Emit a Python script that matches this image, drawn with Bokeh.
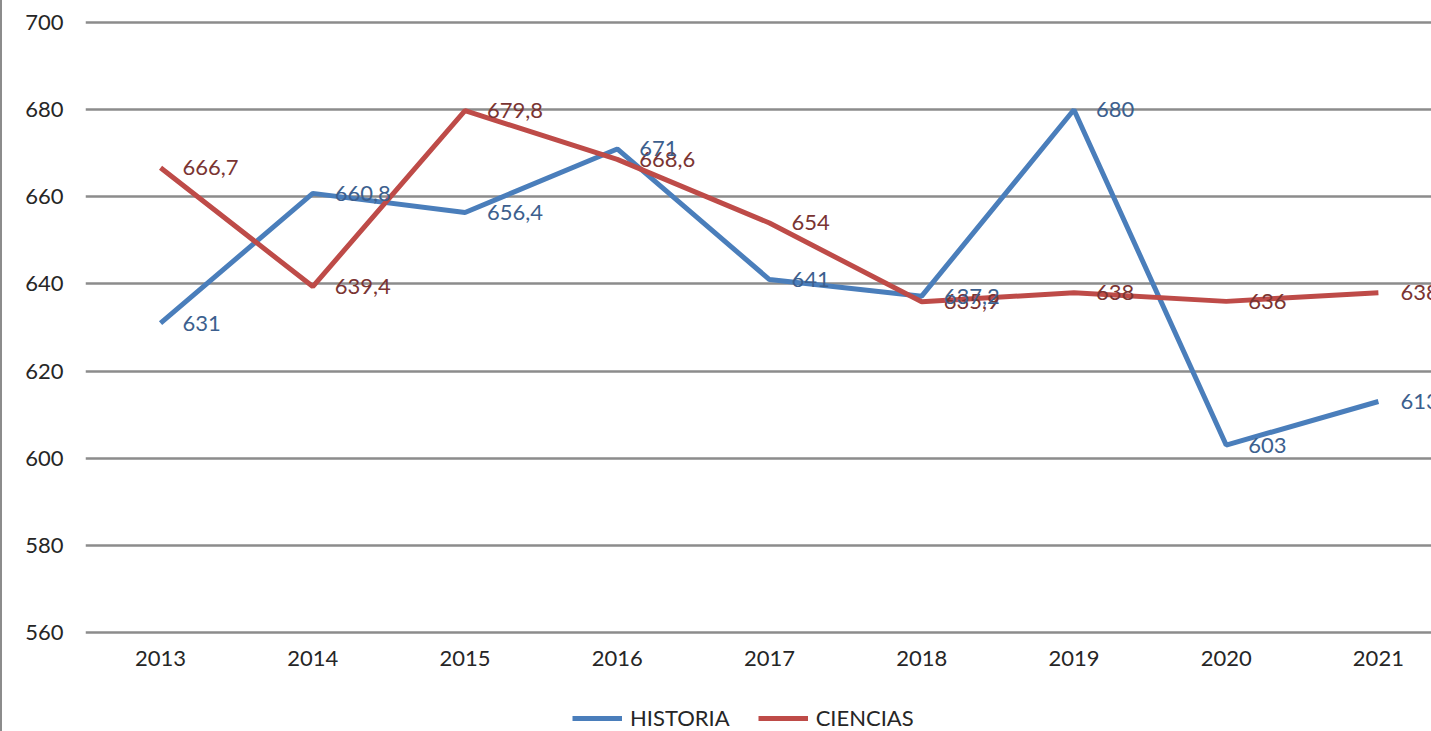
from bokeh.plotting import figure
from bokeh.layouts import column
from bokeh.models import Range1d, ColumnDataSource, Legend, LegendItem, FixedTicker
from bokeh.core.properties import value
from bokeh.embed import file_html
from bokeh.resources import INLINE

years = [2013, 2014, 2015, 2016, 2017, 2018, 2019, 2020, 2021]
historia = [631, 660.8, 656.4, 671, 641, 637.2, 680, 603, 613]
ciencias = [666.7, 639.4, 679.8, 668.6, 654, 635.9, 638, 636, 638]
y_ticks = [560, 580, 600, 620, 640, 660, 680, 700]
series_names = ["HISTORIA", "CIENCIAS"]

def fmt(v):
    return f"{v:g}".replace(".", ",")

FONT = "Lato"
BLUE = "#4A7EBB"
RED = "#BE4B48"
BLUE_LBL = "#3C5F8E"
RED_LBL = "#7A3432"

p = figure(frame_width=1346, frame_height=614, output_backend="svg", toolbar_location=None,
           x_range=Range1d(2012.507, 2021.362), y_range=Range1d(559.5, 700.5),
           min_border_left=83, min_border_right=0, min_border_top=20, min_border_bottom=66)
p.styles = {"border-left": "2px solid #8c8c8c"}
p.outline_line_color = None
p.background_fill_color = "white"
p.border_fill_color = "white"

# grid
p.xgrid.grid_line_color = None
p.ygrid.grid_line_color = "#8c8c8c"
p.ygrid.grid_line_width = 2.5
p.ygrid.ticker = FixedTicker(ticks=y_ticks)

# axes
p.yaxis.ticker = FixedTicker(ticks=y_ticks)
p.xaxis.ticker = FixedTicker(ticks=years)
for ax in (p.xaxis, p.yaxis):
    ax.axis_line_color = None
    ax.major_tick_line_color = None
    ax.minor_tick_line_color = None
    ax.major_tick_out = 0
    ax.major_tick_in = 0
    ax.minor_tick_out = 0
    ax.minor_tick_in = 0
    ax.major_label_text_font = FONT
    ax.major_label_text_font_size = "22px"
    ax.major_label_text_color = "#262626"
p.yaxis.major_label_standoff = 22
p.xaxis.major_label_standoff = 16

src = ColumnDataSource(dict(x=years, h=historia, c=ciencias,
                            hl=[fmt(v) for v in historia], cl=[fmt(v) for v in ciencias]))

p.line("x", "h", source=src, line_color=BLUE, line_width=5)
p.line("x", "c", source=src, line_color=RED, line_width=5)

p.text("x", "c", text="cl", source=src, x_offset=22, text_baseline="middle",
       text_font=value(FONT), text_font_size="22px", text_color=RED_LBL)
p.text("x", "h", text="hl", source=src, x_offset=22, text_baseline="middle",
       text_font=value(FONT), text_font_size="22px", text_color=BLUE_LBL)

# legend strip
lf = figure(width=1429, height=31, output_backend="svg", toolbar_location=None,
            x_range=Range1d(0, 1), y_range=Range1d(0, 1),
            x_axis_type=None, y_axis_type=None,
            min_border_left=0, min_border_right=0, min_border_top=0, min_border_bottom=0)
lf.styles = {"border-left": "2px solid #8c8c8c"}
lf.outline_line_color = None
lf.xgrid.visible = False
lf.ygrid.visible = False
nan = float("nan")
lh = lf.line(x=[nan, nan], y=[nan, nan], line_color=BLUE, line_width=5)
lc = lf.line(x=[nan, nan], y=[nan, nan], line_color=RED, line_width=5)

legend = Legend(items=[LegendItem(label=series_names[0], renderers=[lh]),
                       LegendItem(label=series_names[1], renderers=[lc])],
                orientation="horizontal", location=(487, 0))
legend.label_text_font = FONT
legend.label_text_font_size = "22px"
legend.label_text_color = "#262626"
legend.label_height = 24
legend.glyph_height = 24
legend.border_line_color = None
legend.background_fill_alpha = 0
legend.glyph_width = 50
legend.label_standoff = 8
legend.spacing = 28
legend.padding = 0
legend.margin = 0
lf.add_layout(legend)

layout = column(p, lf, spacing=0)
open("out.html", "w").write(file_html(layout, INLINE))
